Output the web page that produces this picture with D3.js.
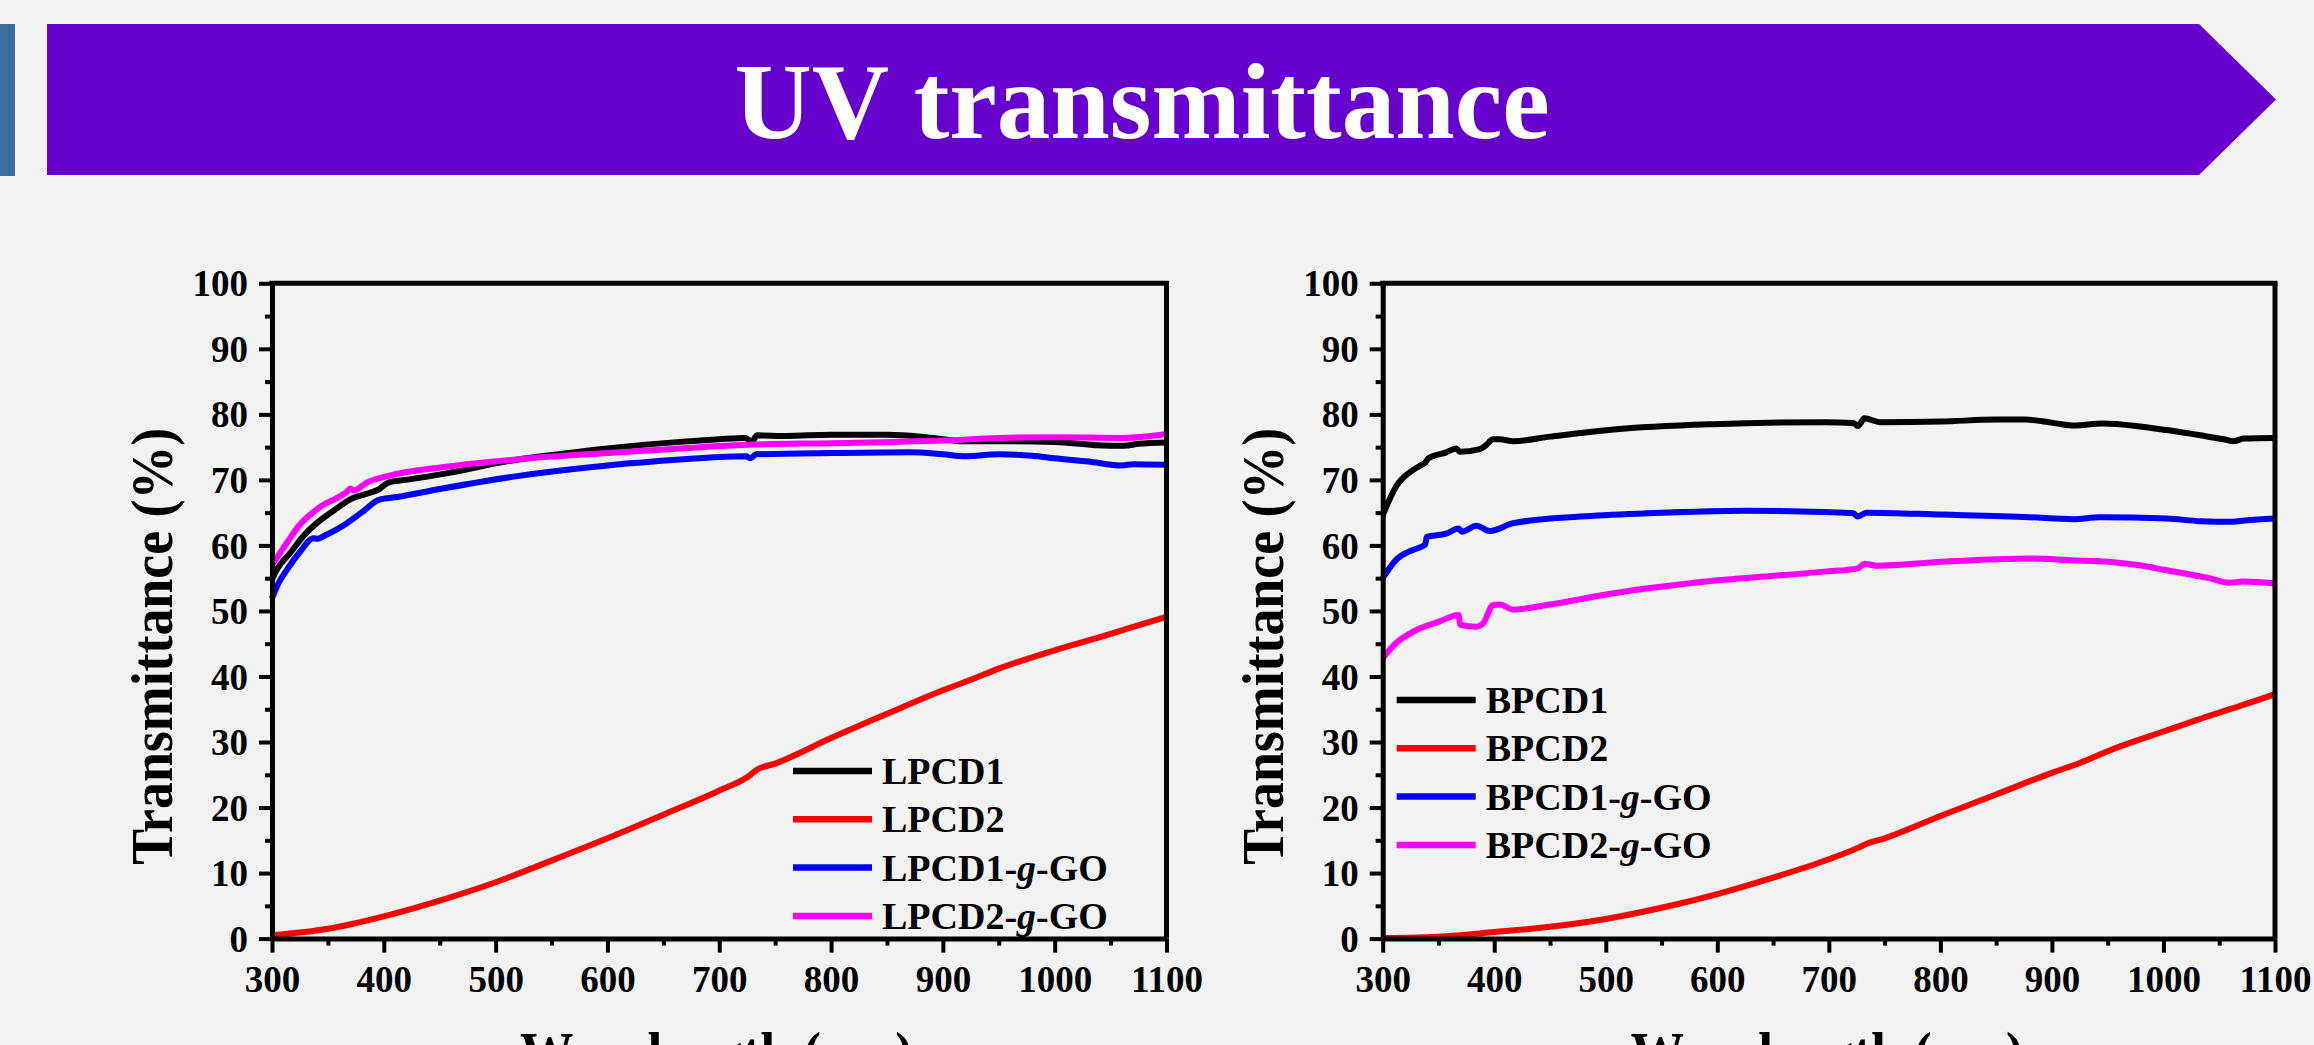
<!DOCTYPE html>
<html>
<head>
<meta charset="utf-8">
<script src="https://cdn.jsdelivr.net/npm/d3@7"></script>
<style>
  body { margin: 0; background: #f2f2f2; }
  svg { display: block; }
  text { font-family: "Liberation Serif", "Times New Roman", serif; font-weight: bold; }
</style>
</head>
<body>
<div id="chart"></div>
<script>
// ---- data ----
const xTicks = [300, 400, 500, 600, 700, 800, 900, 1000, 1100];
const yTicks = [0, 10, 20, 30, 40, 50, 60, 70, 80, 90, 100];

const leftNames = ['LPCD1', 'LPCD2', 'LPCD1-g-GO', 'LPCD2-g-GO'];
const rightNames = ['BPCD1', 'BPCD2', 'BPCD1-g-GO', 'BPCD2-g-GO'];
const seriesColors = ['#000000', '#ff0000', '#0000ff', '#ff00ff'];

const lpcd1 = [[300,54.8],[305,56.5],[316,58.8],[330,61.8],[340,63.4],[355,65.3],[372,67.2],[385,67.9],[396,68.6],[404,69.6],[420,70.0],[456,71.0],[516,73.0],[560,74.0],[600,74.8],[665,75.8],[700,76.2],[723,76.4],[729,75.9],[734,76.8],[760,76.7],[800,76.9],[850,76.9],[880,76.6],[900,76.2],[918,75.9],[960,75.9],[1000,75.8],[1037,75.3],[1062,75.2],[1075,75.5],[1100,75.7]];
const lpcd2 = [[300,0.5],[350,1.5],[400,3.4],[450,5.8],[500,8.6],[550,11.9],[600,15.3],[650,18.9],[700,22.6],[728,25.0],[733,25.7],[750,26.7],[800,30.6],[850,34.3],[900,37.9],[925,39.5],[950,41.2],[1000,44.0],[1050,46.5],[1065,47.3],[1100,49.1]];
const lpcd1go = [[300,51.9],[306,54.3],[313,56.2],[325,59.0],[337,61.1],[341,61.0],[346,61.4],[367,63.4],[380,65.0],[396,67.0],[412,67.4],[450,68.6],[516,70.5],[600,72.2],[665,73.1],[700,73.5],[724,73.6],[728,73.3],[733,73.9],[800,74.1],[870,74.2],[900,73.9],[920,73.6],[950,73.9],[980,73.7],[1000,73.3],[1030,72.8],[1060,72.2],[1070,72.4],[1100,72.3]];
const lpcd2go = [[300,57.0],[313,60.3],[325,63.2],[337,65.1],[346,66.2],[360,67.4],[367,68.2],[370,68.7],[373,68.4],[385,69.6],[404,70.6],[456,72.0],[531,73.3],[600,74.1],[665,74.8],[730,75.4],[800,75.6],[900,76.0],[950,76.4],[1000,76.5],[1060,76.4],[1100,77.0]];

const bpcd1 = [[300,64.6],[312,69.0],[327,71.5],[336,72.4],[338,72.6],[341,73.3],[357,74.2],[366,74.8],[369,74.3],[387,74.7],[392,75.2],[399,76.2],[405,76.2],[417,75.9],[450,76.6],[507,77.7],[596,78.5],[696,78.8],[722,78.7],[726,78.2],[732,79.4],[746,78.8],[801,78.9],[850,79.2],[876,79.2],[901,78.7],[920,78.3],[945,78.6],[977,78.2],[1003,77.6],[1033,76.8],[1054,76.2],[1063,75.9],[1072,76.3],[1100,76.4]];
const bpcd2 = [[300,0.1],[350,0.3],[400,1.0],[450,1.8],[500,3.0],[550,4.7],[600,6.8],[650,9.3],[700,12.1],[728,14.0],[733,14.4],[750,15.3],[800,18.7],[850,22.0],[900,25.3],[925,26.8],[950,28.6],[1000,31.6],[1050,34.5],[1065,35.3],[1100,37.3]];
const bpcd1go = [[300,55.0],[312,57.8],[327,59.3],[338,60.1],[339.5,61.3],[357,61.8],[368,62.6],[371,62.1],[384,63.0],[396,62.2],[417,63.4],[477,64.4],[537,64.9],[626,65.3],[696,65.1],[722,64.9],[726,64.4],[734,65.0],[801,64.7],[880,64.3],[919,64.0],[943,64.3],[1003,64.1],[1033,63.7],[1062,63.6],[1073,63.8],[1100,64.1]];
const bpcd2go = [[300,42.8],[312,45.1],[327,46.8],[351,48.4],[368,49.4],[369.5,47.9],[384,47.6],[390,48.1],[399,50.9],[405,51.0],[417,50.2],[447,50.9],[507,52.7],[596,54.6],[696,56.0],[726,56.5],[732,57.2],[743,56.9],[801,57.5],[883,58.0],[920,57.7],[943,57.6],[977,57.0],[1003,56.2],[1041,55.0],[1059,54.3],[1071,54.5],[1100,54.2]];

const W = 2314, H = 1045;
const svg = d3.select('#chart').append('svg')
  .attr('width', W)
  .attr('height', H);

// ---- header banner ----
svg.append('rect')
  .attr('x', 0).attr('y', 24)
  .attr('width', 15).attr('height', 152)
  .attr('fill', '#3b6c9c');

svg.append('path')
  .attr('d', 'M47,24 L2199,24 L2276,99.5 L2199,175 L47,175 Z')
  .attr('fill', '#6600cc');

svg.append('text')
  .attr('x', 1142)
  .attr('y', 138)
  .attr('text-anchor', 'middle')
  .style('font-size', '107px')
  .attr('fill', '#ffffff')
  .text('UV transmittance');

// ---- panels ----
const panels = [
  { left: 272, right: 1166.5, names: leftNames, series: [lpcd1, lpcd2, lpcd1go, lpcd2go], legend: { x: 521, y: 487.7 } },
  { left: 1382.7, right: 2275, names: rightNames, series: [bpcd1, bpcd2, bpcd1go, bpcd2go], legend: { x: 14, y: 416.7 } }
];
const plotTop = 283.3, plotBottom = 938.6;

panels.forEach(p => {
  const w = p.right - p.left;
  const h = plotBottom - plotTop;
  const g = svg.append('g').attr('transform', `translate(${p.left},${plotTop})`);

  const x = d3.scaleLinear().domain([300, 1100]).range([0, w]);
  const y = d3.scaleLinear().domain([0, 100]).range([h, 0]);

  // data lines
  const line = d3.line()
    .x(d => x(d[0]))
    .y(d => y(d[1]))
    .curve(d3.curveMonotoneX);

  p.series.forEach((s, i) => {
    g.append('path')
      .datum(s)
      .attr('d', line)
      .attr('fill', 'none')
      .attr('stroke', seriesColors[i])
      .attr('stroke-width', 6)
      .attr('stroke-linejoin', 'round');
  });

  // minor ticks
  g.append('g')
    .attr('transform', `translate(0,${h})`)
    .call(d3.axisBottom(x).tickValues(d3.range(350, 1100, 100)).tickSize(7).tickFormat(''))
    .call(a => a.select('.domain').remove());
  g.append('g')
    .call(d3.axisLeft(y).tickValues(d3.range(5, 100, 10)).tickSize(7).tickFormat(''))
    .call(a => a.select('.domain').remove());

  // major axes
  const xAxis = g.append('g')
    .attr('transform', `translate(0,${h})`)
    .call(d3.axisBottom(x).tickValues(xTicks).tickFormat(d3.format('d')).tickSize(14).tickSizeOuter(0));
  xAxis.selectAll('text')
    .attr('y', 53).attr('dy', 0)
    .style('font-size', '37px');

  const yAxis = g.append('g')
    .call(d3.axisLeft(y).tickValues(yTicks).tickFormat(d3.format('d')).tickSize(13).tickSizeOuter(0));
  yAxis.selectAll('text')
    .attr('x', -24).attr('dy', '0.34em')
    .style('font-size', '37px');

  g.selectAll('.tick line').attr('stroke', '#000').attr('stroke-width', 4);
  g.selectAll('.tick text').attr('fill', '#000');
  g.selectAll('.domain').attr('stroke', '#000').attr('stroke-width', 5);

  // frame top / right
  g.append('line')
    .attr('x1', x(300) - 2.5).attr('x2', x(1100) + 2.5)
    .attr('y1', y(100)).attr('y2', y(100))
    .attr('stroke', '#000').attr('stroke-width', 5);
  g.append('line')
    .attr('x1', x(1100)).attr('x2', x(1100))
    .attr('y1', y(100)).attr('y2', y(0))
    .attr('stroke', '#000').attr('stroke-width', 5);

  // axis titles
  g.append('text')
    .attr('transform', `translate(${-100},${363}) rotate(-90)`)
    .attr('text-anchor', 'middle')
    .attr('textLength', 437)
    .attr('lengthAdjust', 'spacingAndGlyphs')
    .style('font-size', '60px')
    .attr('fill', '#000')
    .text('Transmittance (%)');

  g.append('text')
    .attr('x', 444.5)
    .attr('y', 790)
    .attr('text-anchor', 'middle')
    .attr('textLength', 393)
    .attr('lengthAdjust', 'spacingAndGlyphs')
    .style('font-size', '60px')
    .attr('fill', '#000')
    .text('Wavelength (nm)');

  // legend
  const leg = g.append('g').attr('transform', `translate(${p.legend.x},${p.legend.y})`);
  p.names.forEach((name, i) => {
    const row = leg.append('g').attr('transform', `translate(0,${i * 48.3})`);
    row.append('line')
      .attr('x1', 0).attr('x2', 79)
      .attr('y1', 0).attr('y2', 0)
      .attr('stroke', seriesColors[i])
      .attr('stroke-width', 6.5);
    const t = row.append('text')
      .attr('x', 89)
      .attr('y', 13)
      .style('font-size', '38px')
      .attr('fill', '#000');
    const parts = name.split('-g-');
    t.append('tspan').text(parts[0]);
    if (parts.length > 1) {
      t.append('tspan').text('-');
      t.append('tspan').style('font-style', 'italic').text('g');
      t.append('tspan').text('-' + parts[1]);
    }
  });
});
</script>
</body>
</html>
